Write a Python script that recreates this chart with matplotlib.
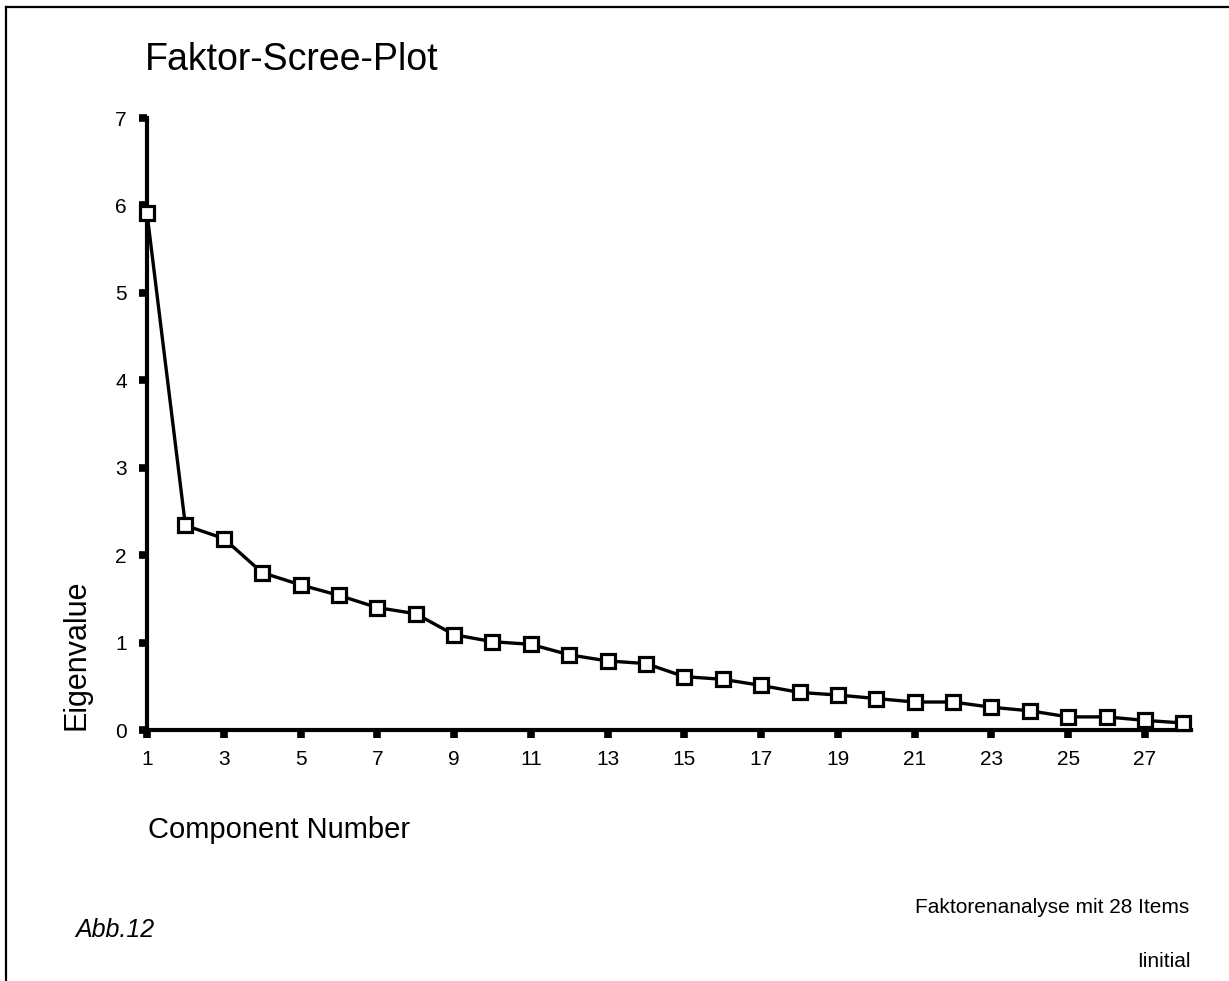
import numpy as np
import matplotlib
matplotlib.use("Agg")
import matplotlib.pyplot as plt
from matplotlib.lines import Line2D

plt.rcParams['font.family'] = ['Liberation Sans', 'DejaVu Sans']

# eigenvalues
components = list(range(1, 29))
eigenvalues = [5.91, 2.34, 2.19, 1.80, 1.66, 1.54, 1.40, 1.33, 1.09, 1.01,
               0.98, 0.86, 0.79, 0.76, 0.61, 0.58, 0.51, 0.43, 0.40, 0.36,
               0.32, 0.32, 0.26, 0.22, 0.15, 0.15, 0.11, 0.08]
x_ticks = list(range(1, 28, 2))
y_ticks = list(range(0, 8))

W, H = 1229, 981
fig = plt.figure(figsize=(W / 100, H / 100), dpi=100)

# axes box in pixels: left 147, bottom 730, top 118, right 1191
ax = fig.add_axes([147 / W, (H - 730) / H, (1191 - 147) / W, (730 - 118) / H])
ax.plot(components, eigenvalues, color='black', linewidth=2.4,
        marker='s', markersize=10.5, markerfacecolor='white',
        markeredgecolor='black', markeredgewidth=2.3, clip_on=False, zorder=3)

ax.set_xlim(1, 28.2)
ax.set_ylim(0, 7)
ax.set_xticks(x_ticks)
ax.set_yticks(y_ticks)
for s in ['top', 'right']:
    ax.spines[s].set_visible(False)
for s in ['left', 'bottom']:
    ax.spines[s].set_linewidth(3)
ax.tick_params(direction='out', length=5.5, width=5.5, labelsize=15, pad=9)

# texts
fig.text(145 / W, (H - 70) / H, 'Faktor-Scree-Plot', fontsize=27,
         ha='left', va='baseline')
fig.text(77 / W, (H - 730) / H, 'Eigenvalue', fontsize=22, rotation=90,
         ha='center', va='bottom')
fig.text(148 / W, (H - 838) / H, 'Component Number', fontsize=21,
         ha='left', va='baseline')
fig.text(75 / W, (H - 937) / H, 'Abb.12', fontsize=18, style='italic',
         ha='left', va='baseline')
fig.text(1189 / W, (H - 913) / H, 'Faktorenanalyse mit 28 Items', fontsize=15,
         ha='right', va='baseline')
fig.text(1191 / W, (H - 967) / H, 'Iinitial', fontsize=15,
         ha='right', va='baseline')

# frame: left and top only
fig.add_artist(Line2D([5.5 / W, 5.5 / W], [0, (H - 7) / H], color='black', linewidth=1.6))
fig.add_artist(Line2D([5.5 / W, 1], [(H - 7) / H, (H - 7) / H], color='black', linewidth=1.6))

fig.savefig('out.png', dpi=100)
